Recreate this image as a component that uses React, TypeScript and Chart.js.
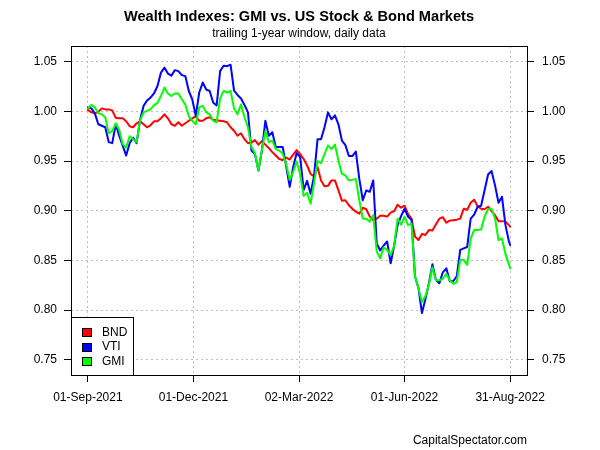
import React, { useEffect, useRef } from 'react';
import { Chart, registerables } from 'chart.js';

Chart.register(...registerables);

const FONT = '"Liberation Sans", Arial, Helvetica, sans-serif';

const titleText = 'Wealth Indexes: GMI vs. US Stock & Bond Markets';
const subtitleText = 'trailing 1-year window, daily data';
const footerText = 'CapitalSpectator.com';

// days since 01-Sep-2021
const dayOffsets = [
  0, 3, 6, 9, 12, 15, 18, 21, 24, 27,
  30, 33, 36, 39, 42, 45, 48, 51, 54, 57,
  60, 63, 66, 69, 72, 75, 78, 81, 84, 87,
  90, 93, 96, 99, 102, 105, 108, 111, 114, 117,
  120, 123, 126, 129, 132, 135, 138, 141, 144, 147,
  150, 153, 156, 159, 162, 165, 168, 171, 174, 177,
  180, 183, 186, 189, 192, 195, 198, 201, 204, 207,
  210, 213, 216, 219, 222, 225, 228, 231, 234, 237,
  240, 243, 246, 249, 252, 255, 258, 261, 264, 267,
  270, 273, 276, 279, 282, 285, 288, 291, 294, 297,
  300, 303, 306, 309, 312, 315, 318, 321, 324, 327,
  330, 333, 336, 339, 342, 345, 348, 351, 354, 357,
  360, 363, 364,
];

const bnd = [
  1.0015, 0.999, 0.998, 0.9995, 1.003, 1.002, 1.002, 1.001, 0.9935, 0.993,
  0.993, 0.990, 0.985, 0.984, 0.988, 0.990, 0.987, 0.984, 0.986, 0.990,
  0.990, 0.993, 0.997, 0.993, 0.987, 0.9855, 0.989, 0.9855, 0.988, 0.9905,
  0.993, 0.995, 0.9905, 0.9905, 0.993, 0.994, 0.9915, 0.991, 0.9905, 0.990,
  0.989, 0.984, 0.9805, 0.9755, 0.978, 0.972, 0.968, 0.9685, 0.971, 0.9665,
  0.970, 0.9665, 0.963, 0.959, 0.9555, 0.952, 0.951, 0.9535, 0.9515, 0.9565,
  0.961, 0.957, 0.952, 0.9455, 0.937, 0.9345, 0.944, 0.9305, 0.9245, 0.925,
  0.9305, 0.9305, 0.9205, 0.910, 0.9105, 0.9055, 0.902, 0.899, 0.897, 0.903,
  0.9015, 0.894, 0.8905, 0.892, 0.895, 0.895, 0.894, 0.898, 0.8995, 0.906,
  0.903, 0.905, 0.8965, 0.892, 0.874, 0.8705, 0.8765, 0.8755, 0.8805, 0.880,
  0.886, 0.892, 0.8935, 0.888, 0.890, 0.8905, 0.891, 0.892, 0.902, 0.901,
  0.908, 0.911, 0.9045, 0.902, 0.9015, 0.904, 0.8995, 0.8955, 0.8895, 0.8895,
  0.889, 0.8855, 0.884,
];

const vti = [
  1.004, 1.003, 0.998, 0.987, 0.9855, 0.984, 0.969, 0.968, 0.987, 0.9755,
  0.9655, 0.9555, 0.968, 0.9735, 0.968, 0.9915, 1.0055, 1.011, 1.0138, 1.018,
  1.0255, 1.039, 1.044, 1.038, 1.036, 1.0415, 1.0405, 1.0365, 1.0355, 1.0205,
  1.012, 0.9955, 1.019, 1.029, 1.022, 1.0205, 1.009, 1.006, 1.0405, 1.046,
  1.0455, 1.047, 1.021, 1.0165, 1.013, 1.0065, 0.999, 0.9605, 0.957, 0.9405,
  0.9605, 0.9905, 0.9755, 0.979, 0.964, 0.964, 0.964, 0.9445, 0.924, 0.944,
  0.958, 0.954, 0.921, 0.930, 0.917, 0.935, 0.972, 0.972, 0.984, 0.999,
  0.992, 0.996, 0.987, 0.9705, 0.966, 0.955, 0.955, 0.9595, 0.932, 0.9105,
  0.9205, 0.919, 0.9305, 0.867, 0.860, 0.865, 0.869, 0.847, 0.8645, 0.8855,
  0.8945, 0.902, 0.894, 0.891, 0.834, 0.822, 0.797, 0.811, 0.827, 0.846,
  0.8305, 0.827, 0.838, 0.842, 0.829, 0.829, 0.834, 0.8605, 0.862, 0.8635,
  0.892, 0.896, 0.904, 0.905, 0.9205, 0.9365, 0.940, 0.9255, 0.908, 0.914,
  0.8855, 0.869, 0.8655,
];

const gmi = [
  1.003, 1.0065, 1.004, 0.998, 0.997, 0.994, 0.978, 0.980, 0.988, 0.9815,
  0.967, 0.9635, 0.975, 0.972, 0.969, 0.991, 0.999, 1.0005, 1.002, 1.006,
  1.0085, 1.0155, 1.024, 1.018, 1.0155, 1.018, 1.018, 1.012, 1.007, 0.995,
  0.9905, 0.987, 1.004, 1.0055, 0.999, 0.997, 0.9905, 0.989, 1.013, 1.0205,
  1.019, 1.0205, 1.003, 0.997, 1.007, 0.994, 0.984, 0.964, 0.958, 0.9405,
  0.961, 0.980, 0.969, 0.9705, 0.962, 0.9605, 0.9575, 0.9465, 0.931, 0.939,
  0.9495, 0.9365, 0.915, 0.918, 0.907, 0.928, 0.950, 0.948, 0.957, 0.9655,
  0.962, 0.9665, 0.9505, 0.937, 0.9355, 0.9305, 0.931, 0.932, 0.9105, 0.892,
  0.892, 0.889, 0.8955, 0.859, 0.852, 0.863, 0.8605, 0.8555, 0.8645, 0.892,
  0.886, 0.894, 0.8855, 0.887, 0.834, 0.822, 0.808, 0.814, 0.8255, 0.843,
  0.830, 0.830, 0.8315, 0.8365, 0.830, 0.8265, 0.828, 0.8505, 0.8505, 0.8455,
  0.872, 0.8805, 0.8805, 0.881, 0.894, 0.9015, 0.902, 0.892, 0.8705, 0.872,
  0.8565, 0.846, 0.842,
];

const seriesNames = ['BND', 'VTI', 'GMI'];
const seriesColors = ['#FF0000', '#0000FF', '#00FF00'];

const xTickDays = [0, 91, 182, 273, 364];
const xTickLabels = ['01-Sep-2021', '01-Dec-2021', '02-Mar-2022', '01-Jun-2022', '31-Aug-2022'];
const yTicks = [0.75, 0.8, 0.85, 0.9, 0.95, 1.0, 1.05];

const X_MIN = -14.56;
const X_MAX = 378.56;
const Y_MIN = 0.7346;
const Y_MAX = 1.0658;

const decorPlugin = {
  id: 'decor',
  afterDraw(chart: any) {
    const { ctx, chartArea: a } = chart;
    ctx.save();
    ctx.setLineDash([]);
    ctx.strokeStyle = '#000';
    ctx.lineWidth = 1;
    const L = Math.round(a.left);
    const T = Math.round(a.top);
    const R = Math.round(a.right);
    const B = Math.round(a.bottom);
    ctx.strokeRect(L + 0.5, T + 0.5, R - L, B - T);

    // title & subtitle
    const cx = (a.left + a.right) / 2;
    ctx.fillStyle = '#000';
    ctx.textAlign = 'center';
    ctx.textBaseline = 'middle';
    ctx.font = `bold 14.6px ${FONT}`;
    ctx.fillText(titleText, cx, 17);
    ctx.font = `12px ${FONT}`;
    ctx.fillText(subtitleText, cx, 34);

    // footer
    ctx.textAlign = 'right';
    ctx.fillText(footerText, R, 441);

    // legend
    const lx0 = L;
    const lx1 = 133;
    const ly0 = 317;
    ctx.fillStyle = '#fff';
    ctx.fillRect(lx0 + 0.5, ly0 + 0.5, lx1 - lx0, B - ly0);
    ctx.strokeStyle = '#000';
    ctx.strokeRect(lx0 + 0.5, ly0 + 0.5, lx1 - lx0, B - ly0);
    const rowY = [332, 346.5, 361];
    ctx.textAlign = 'left';
    ctx.font = `12px ${FONT}`;
    seriesNames.forEach((name, i) => {
      const cy = rowY[i];
      ctx.fillStyle = seriesColors[i];
      ctx.fillRect(82.5, Math.round(cy - 4) + 0.5, 9, 8);
      ctx.strokeStyle = '#000';
      ctx.strokeRect(82.5, Math.round(cy - 4) + 0.5, 9, 8);
      ctx.fillStyle = '#000';
      ctx.fillText(name, 102, cy + 0.5);
    });
    ctx.restore();
  },
};

export default function App() {
  const ref = useRef<HTMLCanvasElement | null>(null);

  useEffect(() => {
    const canvas = ref.current;
    if (!canvas) return;
    const toPoints = (vals: number[]) => dayOffsets.map((d, i) => ({ x: d, y: vals[i] }));
    const seriesValues = [bnd, vti, gmi];
    const datasets = seriesNames.map((name, i) => ({
      label: name,
      data: toPoints(seriesValues[i]),
      borderColor: seriesColors[i],
      backgroundColor: seriesColors[i],
      borderWidth: 2,
      pointRadius: 0,
      tension: 0,
      fill: false,
      order: 3 - i,
      borderJoinStyle: 'round' as const,
      borderCapStyle: 'round' as const,
    }));

    const gridCommon = {
      color: '#bebebe',
      lineWidth: 1,
      tickColor: '#000',
      tickLength: 7,
      tickWidth: 1,
      tickBorderDash: [],
    };
    const borderCommon = { display: false, dash: [2, 3] };
    const tickFont = { family: FONT, size: 12 };

    const chart = new Chart(canvas, {
      type: 'line',
      data: { datasets },
      plugins: [decorPlugin],
      options: {
        responsive: false,
        animation: false,
        devicePixelRatio: 1,
        layout: { padding: { top: 46, left: 0, right: 0, bottom: 0 } },
        plugins: {
          legend: { display: false },
          title: { display: false },
          tooltip: { enabled: false },
        },
        scales: {
          x: {
            type: 'linear',
            position: 'bottom',
            min: X_MIN,
            max: X_MAX,
            afterBuildTicks: (s: any) => {
              s.ticks = xTickDays.map((v) => ({ value: v }));
            },
            afterFit: (s: any) => {
              s.height = 75;
            },
            ticks: {
              autoSkip: false,
              maxRotation: 0,
              minRotation: 0,
              padding: 8,
              color: '#000',
              font: tickFont,
              callback: (v: any) => {
                const idx = xTickDays.indexOf(Number(v));
                return idx >= 0 ? xTickLabels[idx] : '';
              },
            },
            grid: { ...gridCommon },
            border: { ...borderCommon },
          },
          y: {
            type: 'linear',
            position: 'left',
            min: Y_MIN,
            max: Y_MAX,
            afterBuildTicks: (s: any) => {
              s.ticks = yTicks.map((v) => ({ value: v }));
            },
            afterFit: (s: any) => {
              s.width = 71;
            },
            ticks: {
              padding: 7,
              color: '#000',
              font: tickFont,
              callback: (v: any) => Number(v).toFixed(2),
            },
            grid: { ...gridCommon },
            border: { ...borderCommon },
          },
          y2: {
            type: 'linear',
            position: 'right',
            min: Y_MIN,
            max: Y_MAX,
            afterBuildTicks: (s: any) => {
              s.ticks = yTicks.map((v) => ({ value: v }));
            },
            afterFit: (s: any) => {
              s.width = 73;
            },
            ticks: {
              padding: 8,
              color: '#000',
              font: tickFont,
              callback: (v: any) => Number(v).toFixed(2),
            },
            grid: { ...gridCommon, drawOnChartArea: false },
            border: { ...borderCommon },
          },
        },
      } as any,
    });
    return () => chart.destroy();
  }, []);

  return (
    <div style={{ position: 'fixed', left: 0, top: 0, width: 600, height: 450, background: '#fff' }}>
      <canvas ref={ref} width={600} height={450} style={{ display: 'block', width: 600, height: 450 }} />
    </div>
  );
}
